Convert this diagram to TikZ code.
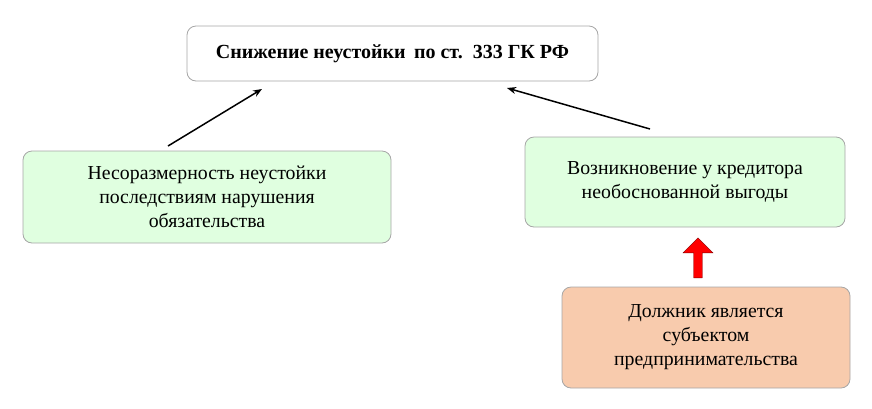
\documentclass[tikz,border=0pt]{standalone}
\usepackage{fontspec}
\setmainfont{Liberation Serif}
\usetikzlibrary{arrows.meta,shapes.arrows}
\begin{document}
\begin{tikzpicture}[x=1pt,y=-1pt,
  box/.style={draw=gray!70,rounded corners=9pt,line width=0.8pt,align=center,font=\fontsize{19.8}{24}\selectfont},
  arr/.style={-{Stealth[length=9pt,width=7pt]},line width=1.5pt}]
\useasboundingbox (0,0) rectangle (872,408);
\node[box,fill=white,minimum width=411pt,minimum height=55pt,font=\bfseries\fontsize{20}{24}\selectfont] (top) at (392.5,53.5) {Снижение неустойки\, по ст.\, 333 ГК РФ};
\node[box,fill=green!12,minimum width=368pt,minimum height=92pt] (left) at (207,197) {Несоразмерность неустойки\\последствиям нарушения\\обязательства};
\node[box,fill=green!12,minimum width=320pt,minimum height=90pt] (right) at (685,182) {Возникновение у кредитора\\необоснованной выгоды};
\node[box,fill={rgb,255:red,248;green,203;blue,173},minimum width=288pt,minimum height=101pt] (bot) at (706,337.5) {Должник является\\субъектом\\предпринимательства};
\coordinate (a1s) at (168,146); \coordinate (a1e) at (262,89);
\coordinate (a2s) at (650,129); \coordinate (a2e) at (507,88);
\draw[arr] (a1s) -- (a1e);
\draw[arr] (a2s) -- (a2e);
\node[single arrow,shape border rotate=90,fill=red,draw=red!50!black,minimum height=40pt,minimum width=30pt,single arrow head extend=3pt,inner sep=1pt] (red) at (698,260) {};
\end{tikzpicture}
\end{document}
